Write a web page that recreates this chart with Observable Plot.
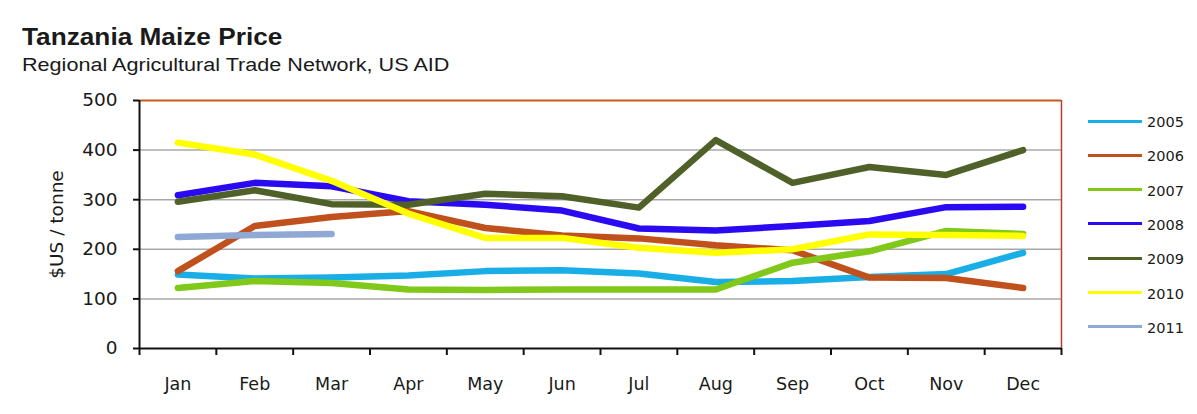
<!DOCTYPE html>
<html>
<head>
<meta charset="utf-8">
<script src="https://cdn.jsdelivr.net/npm/d3@7"></script>
<script src="https://cdn.jsdelivr.net/npm/@observablehq/plot@0.6"></script>
<style>
  body { margin: 0; background: #fff; }
  #wrap { position: relative; width: 1197px; height: 414px; background: #fff; overflow: hidden; font-family: "Liberation Sans", Arial, sans-serif; color: #1a1a1a; }
  #title { position: absolute; left: 22px; top: 24px; font-weight: bold; font-size: 23px; line-height: 26px; transform: scaleX(1.14); transform-origin: left top; white-space: nowrap; }
  #subtitle { position: absolute; left: 22px; top: 55px; font-size: 18px; line-height: 20px; transform: scaleX(1.2); transform-origin: left top; white-space: nowrap; }
  #chart { position: absolute; left: 0; top: 85px; }
  #legend { position: absolute; left: 0; top: 0; width: 1197px; height: 414px; pointer-events: none; }
  .lg-line { position: absolute; left: 1088px; width: 54px; height: 3px; }
  .lg-text { position: absolute; left: 1147px; font-family: "DejaVu Sans", sans-serif; font-size: 14.5px; line-height: 16px; color: #1a1a1a; }
</style>
</head>
<body>
<div id="wrap">
  <div id="title">Tanzania Maize Price</div>
  <div id="subtitle">Regional Agricultural Trade Network, US AID</div>
  <div id="chart"></div>
  <div id="legend"></div>
</div>
<script>
// ---- data ----
const months = ["Jan","Feb","Mar","Apr","May","Jun","Jul","Aug","Sep","Oct","Nov","Dec"];
const years = ["2005","2006","2007","2008","2009","2010","2011"];
const colors = ["#19aee6","#c0501c","#80c81a","#2a0af0","#4f6128","#ffff00","#8fa8d4"];
const y2005 = [149,141,143,147,156,158,151,134,136,144,150,193];
const y2006 = [156,247,265,277,243,228,222,208,198,143,142,122];
const y2007 = [122,136,132,119,118,119,119,119,173,196,237,231];
const y2008 = [309,334,327,297,290,278,242,238,247,257,285,286];
const y2009 = [296,319,291,290,312,307,284,420,334,366,350,400];
const y2010 = [415,391,338,272,223,223,203,193,200,230,229,227];
const y2011 = [225,229,231];
const yTicks = [0,100,200,300,400,500];
const gridValues = [100,200,300,400];

const seriesValues = [y2005,y2006,y2007,y2008,y2009,y2010,y2011];
const rows = [];
seriesValues.forEach((vals, s) => {
  vals.forEach((v, i) => rows.push({year: years[s], month: i + 1, value: v}));
});
const monthIdx = months.map((m, i) => i + 1);
const bounds = d3.range(0, 13).map(i => i + 0.5);

const FONT = '"DejaVu Sans", sans-serif';

const plot = Plot.plot({
  width: 1197,
  height: 329,
  marginTop: 15,
  marginBottom: 66,
  marginLeft: 139,
  marginRight: 136,
  style: {fontFamily: FONT, fontSize: "18px", color: "#1a1a1a", background: "transparent"},
  x: {domain: [0.5, 12.5]},
  y: {domain: [0, 500]},
  color: {domain: years, range: colors},
  marks: [
    Plot.ruleY(gridValues, {stroke: "#a8a8a8", strokeWidth: 1.5}),
    Plot.ruleY([500], {stroke: "#c65b1c", strokeWidth: 2}),
    Plot.ruleX([12.5], {stroke: "#c0392b", strokeWidth: 1.5}),
    ...years.map(yr => Plot.line(rows.filter(d => d.year === yr), {
      x: "month", y: "value", stroke: "year", strokeWidth: 6.5,
      strokeLinejoin: "round", strokeLinecap: "round"
    })),
    Plot.ruleX([0.5], {stroke: "#111", strokeWidth: 2}),
    Plot.ruleY([0], {stroke: "#111", strokeWidth: 2}),
    Plot.axisY({ticks: yTicks, tickSize: 6, tickPadding: 16, fontSize: 18.5, stroke: "#111", strokeWidth: 2,
      label: "$US / tonne", labelAnchor: "center", labelArrow: "none", labelOffset: 90}),
    Plot.axisX({ticks: monthIdx, tickFormat: i => months[i - 1], tickSize: 0, tickPadding: 29, fontSize: 17.5, label: null}),
    Plot.axisX({ticks: bounds, tickFormat: () => "", tickSize: 7, stroke: "#111", strokeWidth: 2, label: null})
  ]
});
document.getElementById("chart").appendChild(plot);

// legend
const legend = document.getElementById("legend");
const legendTop = 122, legendStep = 34.3;
years.forEach((yr, i) => {
  const cy = legendTop + i * legendStep;
  const ln = document.createElement("div");
  ln.className = "lg-line";
  ln.style.top = (cy - 2.5) + "px";
  ln.style.background = colors[i];
  legend.appendChild(ln);
  const tx = document.createElement("div");
  tx.className = "lg-text";
  tx.style.top = (cy - 8) + "px";
  tx.textContent = yr;
  legend.appendChild(tx);
});
</script>
</body>
</html>
